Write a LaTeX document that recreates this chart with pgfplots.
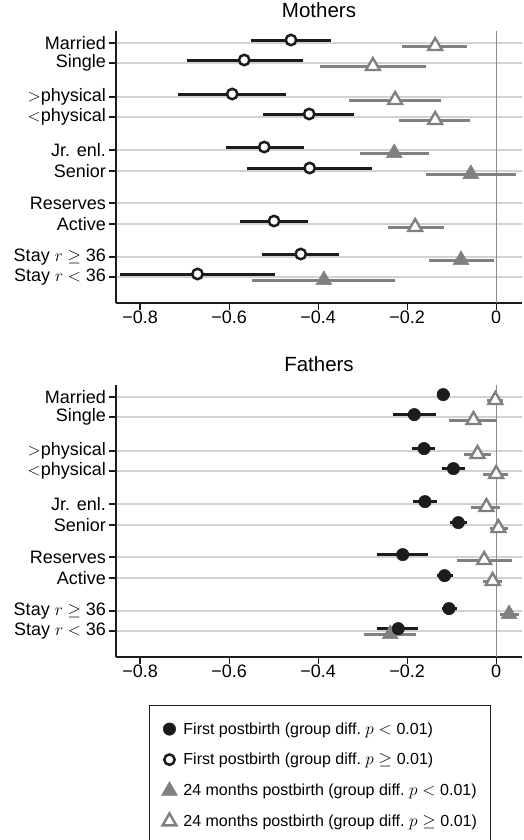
\documentclass[border=0pt]{standalone}
\usepackage{fontspec}
\setmainfont{Liberation Sans}
\usepackage{pgfplots}
\pgfplotsset{compat=1.18}
\definecolor{dk}{HTML}{1C1C1C}
\definecolor{gr}{HTML}{808080}
\definecolor{gridc}{HTML}{D2D2D2}
\definecolor{zeroc}{HTML}{8C8C8C}

\pgfplotsset{
 panel/.style={
  scale only axis, width=406bp, height=272bp,
  xmin=-0.854, xmax=0.058, ymin=-13.0, ymax=0.6,
  axis x line*=bottom, axis y line*=left,
  axis line style={-, dk, line width=1.3bp},
  xtick={-0.8,-0.6,-0.4,-0.2,0},
  xticklabels={−0.8,−0.6,−0.4,−0.2,0},
  ytick={0,-1,-2.7,-3.7,-5.35,-6.4,-8,-9.05,-10.7,-11.7},
  yticklabels={Married,Single,$>$physical,$<$physical,Jr. enl.,Senior,Reserves,Active,Stay $r\geq\mbox{36}$,Stay $r<\mbox{36}$},
  tick style={dk, line width=1.1bp},
  major tick length=7bp,
  tick align=outside,
  ymajorgrids, grid style={gridc, line width=1.2bp},
  ticklabel style={font=\fontsize{18bp}{20bp}\selectfont},
  xticklabel style={inner sep=0pt, anchor=north, yshift=-1bp},
  yticklabel style={inner sep=0pt, anchor=east, xshift=-3bp},
  title style={font=\fontsize{20.5bp}{22bp}\selectfont, at={(axis description cs:0.5,1)}, anchor=base, yshift=8bp},
  clip=false,
 },
 ebar/.style={error bars/x dir=both, error bars/x explicit, error bars/error mark=none,
   error bars/error bar style={line width=3bp, #1}},
 fcirc/.style={only marks, mark=*, mark size=6.2bp, mark options={fill=dk, draw=dk, line width=0.5bp}, ebar=dk},
 ocirc/.style={only marks, mark=*, mark size=5.2bp, mark options={fill=white, draw=dk, line width=2.5bp}, ebar=dk},
 ftri/.style={only marks, mark=triangle*, mark size=9.2bp, mark options={fill=gr, draw=gr, line width=0.5bp}, ebar=gr},
 otri/.style={only marks, mark=triangle*, mark size=8bp, mark options={fill=white, draw=gr, line width=2.4bp}, ebar=gr},
}

\begin{document}
\begin{tikzpicture}[x=1bp,y=1bp]
\path[use as bounding box] (0,0) rectangle (524,-840);

% ---------------- Mothers ----------------
\begin{axis}[panel, at={(116bp,-31bp)}, anchor=north west, title={Mothers}]
\draw[zeroc, line width=1.3bp] (axis cs:0,-13.0) -- (axis cs:0,0.6);
% gray open triangles
\addplot+[otri] table[x=x, y expr=\thisrow{y}-0.15,
  x error plus expr=\thisrow{hi}-\thisrow{x}, x error minus expr=\thisrow{x}-\thisrow{lo}] {
y x lo hi
0 -0.137 -0.211 -0.065
-1 -0.277 -0.396 -0.157
-2.7 -0.227 -0.331 -0.124
-3.7 -0.137 -0.218 -0.058
-9.05 -0.182 -0.244 -0.118
};
% gray filled triangles
\addplot+[ftri] table[x=x, y expr=\thisrow{y}-0.15,
  x error plus expr=\thisrow{hi}-\thisrow{x}, x error minus expr=\thisrow{x}-\thisrow{lo}] {
y x lo hi
-5.35 -0.229 -0.306 -0.151
-6.4 -0.057 -0.157 0.045
-10.7 -0.079 -0.151 -0.004
-11.7 -0.387 -0.549 -0.227
};
% black open circles
\addplot+[ocirc] table[x=x, y expr=\thisrow{y}+0.15,
  x error plus expr=\thisrow{hi}-\thisrow{x}, x error minus expr=\thisrow{x}-\thisrow{lo}] {
y x lo hi
0 -0.461 -0.551 -0.371
-1 -0.566 -0.695 -0.435
-2.7 -0.593 -0.714 -0.472
-3.7 -0.420 -0.523 -0.319
-5.35 -0.521 -0.607 -0.432
-6.4 -0.419 -0.559 -0.279
-9.05 -0.499 -0.575 -0.422
-10.7 -0.439 -0.527 -0.352
-11.7 -0.671 -0.846 -0.497
};
\end{axis}

% ---------------- Fathers ----------------
\begin{axis}[panel, at={(116bp,-385bp)}, anchor=north west, title={Fathers},
  legend style={at={(axis description cs:0.0813,-0.1765)}, anchor=north west,
    draw=dk, line width=1bp, font=\fontsize{16bp}{18bp}\selectfont,
    inner xsep=12bp, inner ysep=15bp, row sep=13.5bp, column sep=4bp,
    cells={anchor=west}},
  legend cell align=left]
\addlegendimage{fcirc}
\addlegendentry{First postbirth (group diff.\ $p<\mbox{0.01}$)}
\addlegendimage{ocirc}
\addlegendentry{First postbirth (group diff.\ $p\geq\mbox{0.01}$)}
\addlegendimage{ftri}
\addlegendentry{24 months postbirth (group diff.\ $p<\mbox{0.01}$)}
\addlegendimage{otri}
\addlegendentry{24 months postbirth (group diff.\ $p\geq\mbox{0.01}$)}
\draw[zeroc, line width=1.3bp] (axis cs:0,-13.0) -- (axis cs:0,0.6);
% gray open triangles
\addplot+[otri, forget plot] table[x=x, y expr=\thisrow{y}-0.15,
  x error plus expr=\thisrow{hi}-\thisrow{x}, x error minus expr=\thisrow{x}-\thisrow{lo}] {
y x lo hi
0 -0.002 -0.020 0.016
-1 -0.051 -0.106 0.002
-2.7 -0.042 -0.073 -0.011
-3.7 0.000 -0.029 0.027
-5.35 -0.022 -0.056 0.009
-6.4 0.005 -0.013 0.027
-8 -0.027 -0.088 0.036
-9.05 -0.008 -0.029 0.013
};
% gray filled triangles
\addplot+[ftri, forget plot] table[x=x, y expr=\thisrow{y}-0.15,
  x error plus expr=\thisrow{hi}-\thisrow{x}, x error minus expr=\thisrow{x}-\thisrow{lo}] {
y x lo hi
-10.7 0.029 0.009 0.052
-11.7 -0.238 -0.297 -0.180
};
% black filled circles
\addplot+[fcirc, forget plot] table[x=x, y expr=\thisrow{y}+0.12,
  x error plus expr=\thisrow{hi}-\thisrow{x}, x error minus expr=\thisrow{x}-\thisrow{lo}] {
y x lo hi
0 -0.119 -0.131 -0.103
-1 -0.184 -0.231 -0.135
-2.7 -0.162 -0.189 -0.137
-3.7 -0.096 -0.121 -0.071
-5.35 -0.160 -0.187 -0.132
-6.4 -0.085 -0.103 -0.066
-8 -0.210 -0.267 -0.154
-9.05 -0.116 -0.133 -0.097
-10.7 -0.106 -0.121 -0.088
-11.7 -0.220 -0.267 -0.175
};
\end{axis}
\end{tikzpicture}
\end{document}
